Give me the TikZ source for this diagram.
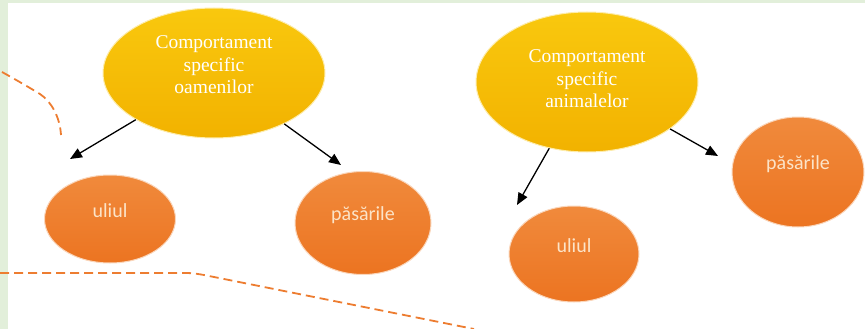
\documentclass[tikz,border=0pt]{standalone}
\usepackage{fontspec}
\setmainfont{Liberation Serif}
\newfontfamily\calib{Carlito}
\usetikzlibrary{shapes.geometric,arrows.meta}
\definecolor{bggreen}{HTML}{E2EFDA}
\definecolor{gold1}{HTML}{F9C80E}
\definecolor{gold2}{HTML}{F2B200}
\definecolor{or1}{HTML}{F08A3C}
\definecolor{or2}{HTML}{EC7421}
\definecolor{dashor}{HTML}{ED7D31}
\definecolor{cream}{HTML}{FCE4C8}
\begin{document}
\begin{tikzpicture}[x=1pt,y=-1pt,
 yel/.style={ellipse, top color=gold1, bottom color=gold2, draw=gold1!35, line width=1pt, inner sep=0pt},
 yeltxt/.style={text=white, font=\fontsize{19.5}{22.5}\selectfont, align=center},
 ora/.style={ellipse, top color=or1, bottom color=or2, draw=or1!35, line width=1pt, inner sep=0pt},
 oratxt/.style={text=cream, font=\calib\fontsize{20}{22}\selectfont, yshift=8pt},
 arr/.style={-{Triangle[length=12pt,width=10pt]}, line width=1.3pt, black},
 dsh/.style={dashor, line width=1.8pt, dash pattern=on 9pt off 5pt}]
\useasboundingbox (0,0) rectangle (865,329);
\fill[bggreen] (0,0) rectangle (865,3);
\fill[bggreen] (0,0) rectangle (8,329);
% dashed lines
\draw[dsh] (2,72) .. controls (20,82) and (30,88) .. (40,94) .. controls (52,102) and (60,118) .. (61,135);
\draw[dsh] (0,273) -- (186,273) .. controls (193,273) and (198,274) .. (204,275) -- (474,329);
% ellipses
\node[yel, minimum width=222pt, minimum height=130pt,
  label={[yeltxt, yshift=8pt]center:Comportament\\specific\\oamenilor}] (y1) at (214,73) {};
\node[yel, minimum width=222pt, minimum height=140pt,
  label={[yeltxt, yshift=3pt]center:Comportament\\specific\\animalelor}] (y2) at (587,82) {};
\node[ora, minimum width=131pt, minimum height=88pt, label={[oratxt]center:uliul}] (u1) at (110,219) {};
\node[ora, minimum width=136pt, minimum height=103pt, label={[oratxt]center:păsările}] (p1) at (363,223) {};
\node[ora, minimum width=130pt, minimum height=96pt, label={[oratxt]center:uliul}] (u2) at (574,254) {};
\node[ora, minimum width=132pt, minimum height=110pt, label={[oratxt]center:păsările}] (p2) at (798,172) {};
% arrow ends
\coordinate (e1) at (70,159);
\coordinate (e2) at (341,165);
\coordinate (e3) at (517,205);
\coordinate (e4) at (718,156);
\draw[arr] (y1) -- (e1);
\draw[arr] (y1) -- (e2);
\draw[arr] (y2) -- (e3);
\draw[arr] (y2) -- (e4);
\end{tikzpicture}
\end{document}
